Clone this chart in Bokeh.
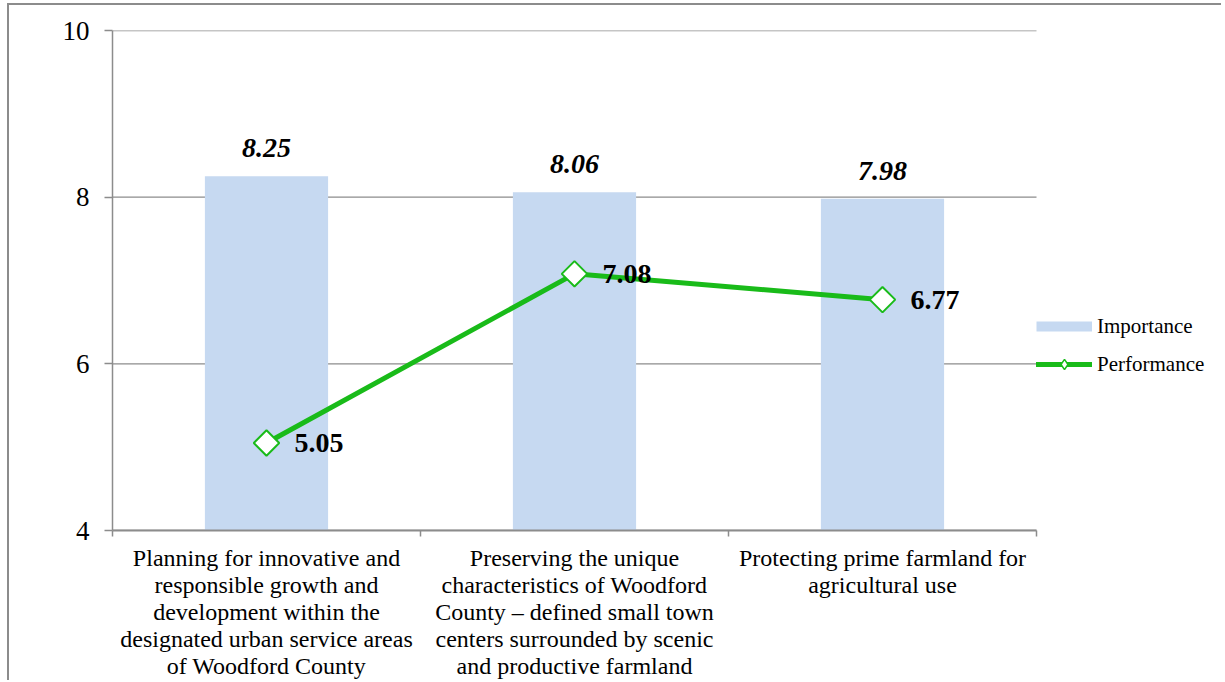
import numpy as np
from bokeh.plotting import figure
from bokeh.models import (ColumnDataSource, Range1d, LinearAxis, FixedTicker, LabelSet,
                          Legend, LegendItem)
from bokeh.embed import file_html
from bokeh.resources import INLINE

categories = [
    "Planning for innovative and\nresponsible growth and\ndevelopment within the\ndesignated urban service areas\nof Woodford County",
    "Preserving the unique\ncharacteristics of Woodford\nCounty \u2013 defined small town\ncenters surrounded by scenic\nand productive farmland",
    "Protecting prime farmland for\nagricultural use",
]
importance = [8.25, 8.06, 7.98]
performance = [5.05, 7.08, 6.77]
y_ticks = [4, 6, 8, 10]

FONT = "Liberation Serif"
GRAY = "#8c8c8c"
BAR = "#c6d9f1"
GREEN = "#19bb19"

# layout (pixels)
W, H = 1214, 677
LEFT, TOP, BOTTOM = 103, 25, 152
PLOT_W = 924                       # width of the category area; the legend sits to its right
FRAME_W = W - LEFT

n = len(categories)
centers = [i + 0.5 for i in range(n)]          # category slot centres on a 0..n axis
bounds = list(range(n + 1))                     # slot boundaries
src = ColumnDataSource(dict(
    x=centers,
    imp=importance,
    perf=performance,
    imp_lbl=[f"{v:.2f}" for v in importance],
    perf_lbl=[f"{v:.2f}" for v in performance],
))
grid_src = ColumnDataSource(dict(y=y_ticks, x0=[0] * len(y_ticks), x1=[n] * len(y_ticks)))

p = figure(width=W, height=H, x_range=Range1d(0, n * FRAME_W / PLOT_W), y_range=Range1d(4, 10),
           output_backend="svg", toolbar_location=None, x_axis_location=None, y_axis_location=None,
           min_border_left=LEFT, min_border_right=0, min_border_top=TOP, min_border_bottom=BOTTOM)
p.outline_line_color = None
p.xgrid.visible = False
p.ygrid.visible = False
p.styles = {"border-top": "2px solid #8c8c8c", "border-left": "2px solid #8c8c8c",
            "margin-left": "7px", "margin-top": "3px"}

# horizontal gridlines spanning the category area only
p.segment(x0="x0", x1="x1", y0="y", y1="y", source=grid_src, line_color=GRAY, line_width=1.3)

# y axis
yax = LinearAxis(ticker=FixedTicker(ticks=y_ticks))
yax.axis_line_color = GRAY
yax.axis_line_width = 1.5
yax.major_tick_line_color = GRAY
yax.major_tick_line_width = 1.5
yax.major_tick_in = 0
yax.major_tick_out = 8
yax.minor_tick_line_color = None
yax.major_label_standoff = 15
yax.major_label_text_font = FONT
yax.major_label_text_font_size = "27px"
yax.major_label_text_color = "black"
p.add_layout(yax, "left")

# x axis: boundary ticks between categories (no labels)
tax = LinearAxis(ticker=FixedTicker(ticks=bounds), bounds=(0, n))
tax.major_label_overrides = {b: "" for b in bounds}
tax.axis_line_color = GRAY
tax.axis_line_width = 2
tax.major_tick_line_color = GRAY
tax.major_tick_line_width = 1.5
tax.major_tick_in = 0
tax.major_tick_out = 6
tax.minor_tick_line_color = None
tax.major_label_text_font_size = "1px"
tax.major_label_standoff = 0
p.add_layout(tax, "below")

# x axis: category labels at slot centres
cax = LinearAxis(ticker=FixedTicker(ticks=centers))
cax.major_label_overrides = {c: lab for c, lab in zip(centers, categories)}
cax.axis_line_color = None
cax.major_tick_line_color = None
cax.minor_tick_line_color = None
cax.major_tick_out = 0
cax.major_tick_in = 0
cax.major_label_standoff = 8
cax.major_label_text_font = FONT
cax.major_label_text_font_size = "24px"
cax.major_label_text_color = "black"
cax.major_label_text_line_height = 1.04
p.add_layout(cax, "below")

bars = p.vbar(x="x", top="imp", bottom=4, width=0.4, source=src, fill_color=BAR, line_color=None)
line = p.line(x="x", y="perf", source=src, line_color=GREEN, line_width=5)
marks = p.scatter(x="x", y="perf", source=src, marker="square", angle=np.pi / 4, size=18,
                  fill_color="white", line_color=GREEN, line_width=2)
# legend proxies (nothing drawable in the plot)
nan_y = [np.nan] * n
swatch_bar = p.line(x=centers, y=nan_y, line_color=BAR, line_width=10, line_cap="butt")
swatch_line = p.line(x=centers, y=nan_y, line_color=GREEN, line_width=5, line_cap="round")
swatch_mark = p.scatter(x=centers, y=nan_y, marker="diamond", fill_color="white",
                        line_color=GREEN, line_width=1.5)

p.add_layout(LabelSet(x="x", y="imp", text="imp_lbl", source=src, text_align="center",
                      text_baseline="middle", y_offset=28, text_font=FONT, text_font_size="28px",
                      text_font_style="bold italic", text_color="black"))
p.add_layout(LabelSet(x="x", y="perf", text="perf_lbl", source=src, text_align="left",
                      text_baseline="middle", x_offset=28, text_font=FONT, text_font_size="28px",
                      text_font_style="bold", text_color="black"))

legend = Legend(items=[LegendItem(label="Importance", renderers=[swatch_bar]),
                       LegendItem(label="Performance", renderers=[swatch_line, swatch_mark])],
                location=(PLOT_W, 153))
legend.border_line_color = None
legend.background_fill_alpha = 0
legend.padding = 0
legend.margin = 0
legend.glyph_width = 56
legend.glyph_height = 26
legend.label_standoff = 5
legend.spacing = 12
legend.label_text_font = FONT
legend.label_text_font_size = "21px"
legend.label_text_color = "black"
p.add_layout(legend, "center")

open("out.html", "w").write(file_html(p, INLINE))
